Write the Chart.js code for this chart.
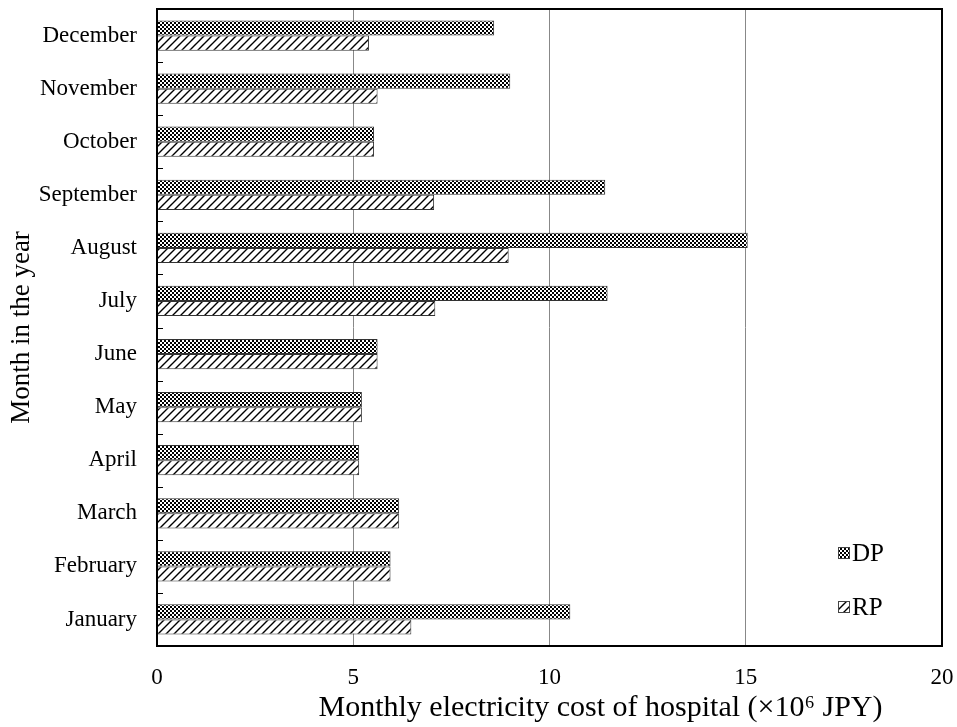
<!DOCTYPE html>
<html>
<head>
<meta charset="utf-8">
<script src="https://cdn.jsdelivr.net/npm/chart.js@4/dist/chart.umd.min.js"></script>
<style>
  body { margin: 0; background: #fff; }
  #wrap { width: 957px; height: 727px; }
</style>
</head>
<body>
<div id="wrap"><canvas id="chart" width="957" height="727"></canvas></div>
<script>
// months from top to bottom of the chart
var months = ['December','November','October','September','August','July','June','May','April','March','February','January'];
// monthly electricity cost (x10^6 JPY)
var dpCost = [8.59, 9.00, 5.53, 11.42, 15.05, 11.48, 5.62, 5.22, 5.15, 6.17, 5.95, 10.53];
var rpCost = [5.40, 5.62, 5.53, 7.06, 8.96, 7.09, 5.62, 5.22, 5.15, 6.17, 5.95, 6.48];
var xMin = 0, xMax = 20, xStep = 5;

var serif = "'Liberation Serif', 'Times New Roman', serif";
var xTitle = 'Monthly electricity cost of hospital (\u00d710\u2076 JPY)';

// checker pattern for DP
function checkerPattern(){
	var c = document.createElement('canvas');
	c.width = 4; c.height = 4;
	var g = c.getContext('2d');
	g.fillStyle = '#fff'; g.fillRect(0,0,4,4);
	g.fillStyle = '#000';
	g.fillRect(0,0,2,2); g.fillRect(2,2,2,2);
	return g.createPattern(c,'repeat');
}

// diagonal hatch for RP
function hatchPattern(){
	var c = document.createElement('canvas');
	c.width = 8; c.height = 8;
	var g = c.getContext('2d');
	g.fillStyle = '#fff'; g.fillRect(0,0,8,8);
	g.strokeStyle = '#000'; g.lineWidth = 1.4;
	g.beginPath();
	g.moveTo(0,8); g.lineTo(8,0);
	g.moveTo(-2,2); g.lineTo(2,-2);
	g.moveTo(6,10); g.lineTo(10,6);
	g.stroke();
	return g.createPattern(c,'repeat');
}

var dpFill = checkerPattern();
var rpFill = hatchPattern();

// frame, inner ticks, x title and legend
var decor = {
	id: 'decor',
	afterDatasetsDraw: function(chart){
		var ctx = chart.ctx, a = chart.chartArea, y = chart.scales.y;
		ctx.save();
		// small ticks between categories
		ctx.strokeStyle = '#000'; ctx.lineWidth = 1;
		var half = (y.getPixelForTick(1) - y.getPixelForTick(0)) / 2;
		for (var i = 0; i < months.length - 1; i++) {
			var py = Math.round(y.getPixelForTick(i) + half) + 0.5;
			ctx.beginPath(); ctx.moveTo(a.left, py); ctx.lineTo(a.left + 6, py); ctx.stroke();
		}
		// frame
		ctx.strokeStyle = '#000'; ctx.lineWidth = 2;
		ctx.strokeRect(a.left, a.top, a.right - a.left, a.bottom - a.top);
		// x axis title (sits a bit right of centre in the original)
		ctx.fillStyle = '#000';
		ctx.font = '30px ' + serif;
		ctx.textAlign = 'center';
		ctx.textBaseline = 'middle';
		ctx.fillText(xTitle, (a.left + a.right) / 2 + 51, a.bottom + 62);
		// legend
		var items = [{t:'DP', f:dpFill, dy:-93}, {t:'RP', f:rpFill, dy:-39}];
		ctx.font = '25px ' + serif;
		ctx.textAlign = 'left';
		items.forEach(function(it){
			var bx = a.right - 104, by = a.bottom + it.dy - 6;
			ctx.fillStyle = it.f; ctx.fillRect(bx, by, 12, 12);
			ctx.strokeStyle = '#444'; ctx.lineWidth = 1;
			ctx.strokeRect(bx + 0.5, by + 0.5, 11, 11);
			ctx.fillStyle = '#000';
			ctx.fillText(it.t, bx + 14, by + 7);
		});
		ctx.restore();
	}
};

function noPad(s){ s.paddingTop = 0; s.paddingBottom = 0; s.paddingLeft = 0; s.paddingRight = 0; }

new Chart(document.getElementById('chart'), {
	type: 'bar',
	data: {
		labels: months,
		datasets: [
			{label: 'DP', data: dpCost, backgroundColor: dpFill, borderColor: '#333', borderWidth: 1},
			{label: 'RP', data: rpCost, backgroundColor: rpFill, borderColor: '#333', borderWidth: 1}
		]
	},
	options: {
		indexAxis: 'y',
		responsive: false,
		animation: false,
		layout: {padding: {top: 9, right: 15, left: 0, bottom: 0}},
		datasets: {bar: {categoryPercentage: 0.57, barPercentage: 1.0}},
		plugins: {legend: {display: false}, tooltip: {enabled: false}},
		scales: {
			x: {
				min: xMin, max: xMax,
				ticks: {stepSize: xStep, color: '#000', padding: 18, font: {family: serif, size: 23}},
				grid: {
					drawTicks: false,
					color: function(c){ return (c.tick && (c.tick.value === xMin || c.tick.value === xMax)) ? 'rgba(0,0,0,0)' : '#888'; },
					lineWidth: 1
				},
				border: {display: false},
				title: {display: false},
				afterFit: function(s){ s.height = 81; noPad(s); }
			},
			y: {
				ticks: {color: '#000', padding: 20, font: {family: serif, size: 23}},
				grid: {display: false, drawTicks: false},
				border: {display: false},
				title: {display: true, text: 'Month in the year', color: '#000',
					font: {family: serif, size: 27}, padding: {top: 6, bottom: 0}},
				afterFit: function(s){ s.width = 157; noPad(s); }
			}
		}
	},
	plugins: [decor]
});
</script>
</body>
</html>
